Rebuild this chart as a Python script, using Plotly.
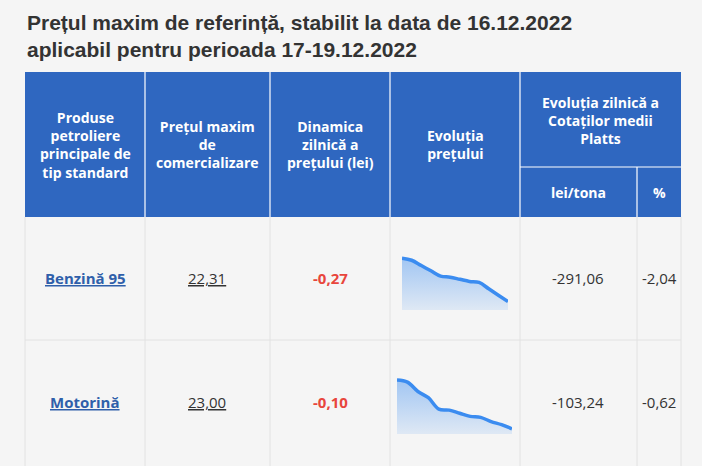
import plotly.graph_objects as go

W, H = 702, 466

# date din tabel
produse = ["Benzină 95", "Motorină"]
pret_maxim = ["22,31", "23,00"]
dinamica = ["-0,27", "-0,10"]
lei_tona = ["-291,06", "-103,24"]
procent = ["-2,04", "-0,62"]

# evolutia pretului (valori relative, citite din sparkline)
evolutie_benzina = [49, 47, 42, 37, 32, 31, 29, 27, 26, 20, 14, 8]
evolutie_motorina = [52, 50, 41, 35, 24, 23, 20, 17, 16, 12, 9, 5]

BLUE = "#2f67c0"
GRID = "#e2e2e2"


def px(x):
    return x / W


def py(y):
    return 1 - y / H


fig = go.Figure()
shapes = []
ann = []

cols = [25, 145, 270, 390, 520, 637, 681]
top, sub, hb = 72, 167, 217
rows = [(217, 340), (340, 470)]

# body grid
for r0, r1 in rows:
    shapes.append(dict(type="line", xref="paper", yref="paper", x0=px(25), x1=px(681),
                       y0=py(r1), y1=py(r1), line=dict(color=GRID, width=1)))
for c in cols:
    shapes.append(dict(type="line", xref="paper", yref="paper", x0=px(c), x1=px(c),
                       y0=0, y1=py(hb), line=dict(color=GRID, width=1)))

# header
shapes.append(dict(type="rect", xref="paper", yref="paper", x0=px(25), x1=px(681),
                   y0=py(hb), y1=py(top), fillcolor=BLUE, line_width=0))
for c in cols[1:-1]:
    y0 = sub if c == 637 else top
    shapes.append(dict(type="line", xref="paper", yref="paper", x0=px(c), x1=px(c),
                       y0=py(hb), y1=py(y0), line=dict(color="white", width=1.2)))
shapes.append(dict(type="line", xref="paper", yref="paper", x0=px(520), x1=px(681),
                   y0=py(sub), y1=py(sub), line=dict(color="white", width=1.2)))

head_font = dict(family="Open Sans", size=14, color="white")
headers = [
    ("Produse<br>petroliere<br>principale de<br>tip standard", 85, 145),
    ("Prețul maxim<br>de<br>comercializare", 207, 145),
    ("Dinamica<br>zilnică a<br>prețului (lei)", 330, 145),
    ("Evoluția<br>prețului", 455, 145),
    ("Evoluția zilnică a<br>Cotaților medii<br>Platts", 600, 120),
    ("lei/tona", 578, 192),
    ("%", 659, 192),
]
for t, x, y in headers:
    ann.append(dict(text="<b>" + t + "</b>", x=px(x), y=py(y), font=head_font,
                    align="center"))

centers = [278, 402]
for i, yc in enumerate(centers):
    ann.append(dict(text="<b><u>" + produse[i] + "</u></b>", x=px(85), y=py(yc), font=dict(
        family="Open Sans", size=15, color="#2f5faa")))
    ann.append(dict(text="<u>" + pret_maxim[i] + "</u>", x=px(207), y=py(yc), font=dict(
        family="Open Sans", size=15, color="#333")))
    ann.append(dict(text="<b>" + dinamica[i] + "</b>", x=px(330), y=py(yc), font=dict(
        family="Open Sans", size=15, color="#e8453c")))
    ann.append(dict(text=lei_tona[i], x=px(578), y=py(yc), font=dict(
        family="Open Sans", size=15, color="#333")))
    ann.append(dict(text=procent[i], x=px(659), y=py(yc), font=dict(
        family="Open Sans", size=15, color="#333")))
for a in ann:
    a.update(xref="paper", yref="paper", showarrow=False, xanchor="center", yanchor="middle")

ann.append(dict(text="<b>Prețul maxim de referință, stabilit la data de 16.12.2022<br>"
                "aplicabil pentru perioada 17-19.12.2022</b>", x=px(25), y=py(36),
                xref="paper", yref="paper", showarrow=False, xanchor="left", yanchor="middle",
                align="left", font=dict(family="Liberation Sans", size=21, color="#333")))

# sparklines
spark = [(evolutie_benzina, 402, 508, 256, 310), (evolutie_motorina, 397, 512, 378, 434)]
for k, (vals, x0, x1, y0, y1) in enumerate(spark, start=2):
    fig.add_trace(go.Scatter(
        x=list(range(len(vals))), y=vals, mode="lines", xaxis=f"x{k}", yaxis=f"y{k}",
        line=dict(color="#3b8cf0", width=3.5, shape="spline"), fill="tozeroy",
        fillgradient=dict(type="vertical", colorscale=[[0, "rgba(59,140,240,0.12)"],
                                                       [1, "rgba(59,140,240,0.45)"]]),
        hoverinfo="skip", showlegend=False))
    ax = dict(visible=False, fixedrange=True)
    fig.update_layout(**{
        f"xaxis{k}": dict(ax, domain=[px(x0), px(x1)], range=[0, len(vals) - 1]),
        f"yaxis{k}": dict(ax, domain=[py(y1), py(y0)], range=[0, max(vals) + 2]),
    })

fig.update_layout(
    width=W, height=H, margin=dict(l=0, r=0, t=0, b=0),
    paper_bgcolor="#f5f5f5", plot_bgcolor="rgba(0,0,0,0)",
    xaxis=dict(visible=False), yaxis=dict(visible=False),
    shapes=shapes, annotations=ann,
)
fig.write_html("out.html", config={"displayModeBar": False},
               post_script="document.body.style.margin='0';document.body.style.overflow='hidden';")
